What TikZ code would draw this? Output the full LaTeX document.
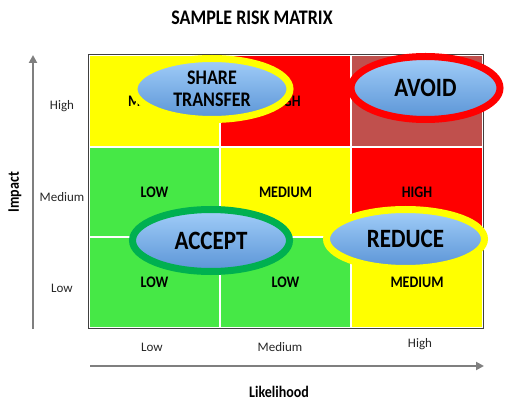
\documentclass[tikz,border=0pt]{standalone}
\usepackage{fontspec}
\setmainfont{Carlito}
\usetikzlibrary{shapes.geometric,arrows.meta}
\definecolor{ryellow}{HTML}{FFFF00}
\definecolor{rred}{HTML}{FF0000}
\definecolor{rdark}{HTML}{C0504D}
\definecolor{rgreen}{HTML}{46E846}
\definecolor{ringgreen}{HTML}{00B050}
\definecolor{etop}{HTML}{A2CEF9}
\definecolor{ebot}{HTML}{5A94D6}
\definecolor{axisgray}{HTML}{7F7F7F}
\definecolor{framegray}{HTML}{404040}
\newcommand\tallt[1]{\scalebox{1}[1.15]{#1}}
\begin{document}
\begin{tikzpicture}[x=1pt,y=-1pt,
  cell/.style={rectangle,draw=white,line width=1.5pt,inner sep=0pt,
    font=\bfseries\fontsize{14}{14}\selectfont},
  strat/.style={ellipse,line width=7pt,inner sep=0pt,top color=etop,bottom color=ebot,
    font=\bfseries\fontsize{23}{23}\selectfont,align=center},
  axisline/.style={draw=axisgray,line width=2pt,-{Triangle[length=8pt,width=8pt]}},
  axlab/.style={font=\fontsize{13}{13}\selectfont,text=black!85},
  axtitle/.style={font=\bfseries\fontsize{14}{14}\selectfont}
]
\useasboundingbox (0,0) rectangle (505,403);

% title
\node[font=\bfseries\fontsize{18}{18}\selectfont] (title) at (252,18) {\tallt{SAMPLE RISK MATRIX}};

% cells
\node[cell,fill=ryellow,minimum width=131pt,minimum height=92pt] (c11) at (154.5,101) {\tallt{MEDIUM}};
\node[cell,fill=rred,minimum width=131pt,minimum height=92pt] (c12) at (285.5,101) {\tallt{HIGH}};
\node[cell,fill=rdark,minimum width=132pt,minimum height=92pt] (c13) at (417,101) {};
\node[cell,fill=rgreen,minimum width=131pt,minimum height=90pt] (c21) at (154.5,192) {\tallt{LOW}};
\node[cell,fill=ryellow,minimum width=131pt,minimum height=90pt] (c22) at (285.5,192) {\tallt{MEDIUM}};
\node[cell,fill=rred,minimum width=132pt,minimum height=90pt] (c23) at (417,192) {\tallt{HIGH}};
\node[cell,fill=rgreen,minimum width=131pt,minimum height=91pt] (c31) at (154.5,282.5) {\tallt{LOW}};
\node[cell,fill=rgreen,minimum width=131pt,minimum height=91pt] (c32) at (285.5,282.5) {\tallt{LOW}};
\node[cell,fill=ryellow,minimum width=132pt,minimum height=91pt] (c33) at (417,282.5) {\tallt{MEDIUM}};
\draw[framegray,line width=1pt] (c11.north west) rectangle (c33.south east);

% strategy ellipses
\node[strat,draw=ryellow,minimum width=156pt,minimum height=61pt,
  font=\bfseries\fontsize{18}{22}\selectfont] (share) at (212,89) {\tallt{SHARE}\\\tallt{TRANSFER}};
\node[strat,draw=rred,minimum width=149pt,minimum height=63pt] (avoid) at (425.5,88) {\tallt{AVOID}};
\node[strat,draw=ringgreen,minimum width=157pt,minimum height=62pt] (accept) at (211,240.5) {\tallt{ACCEPT}};
\node[strat,draw=ryellow,minimum width=158pt,minimum height=59pt] (reduce) at (405.5,239) {\tallt{REDUCE}};

% axes
\coordinate (ybot) at (33,329);
\coordinate (ytop) at (33,55);
\coordinate (xl) at (90,366);
\coordinate (xr) at (484,366);
\draw[axisline] (ybot) -- (ytop);
\draw[axisline] (xl) -- (xr);

\node[axlab] (yh) at (62,106) {High};
\node[axlab] (ym) at (62,197) {Medium};
\node[axlab] (yl) at (62,288) {Low};
\node[axtitle,rotate=90] (impact) at (15,192) {\tallt{Impact}};

\node[axlab] (xlo) at (152,347) {Low};
\node[axlab] (xme) at (280,347) {Medium};
\node[axlab] (xhi) at (420,344) {High};
\node[axtitle] (likely) at (279,392) {\tallt{Likelihood}};
\end{tikzpicture}
\end{document}
